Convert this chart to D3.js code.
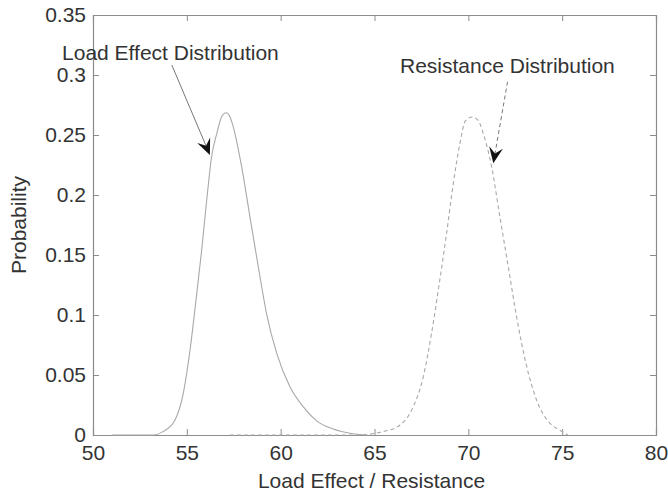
<!DOCTYPE html>
<html>
<head>
<meta charset="utf-8">
<script src="https://cdn.jsdelivr.net/npm/d3@7"></script>
<style>
  body { margin: 0; background: #fff; }
  text { font-family: "Liberation Sans", Arial, sans-serif; fill: #333; }
</style>
</head>
<body>
<div id="chart"></div>
<script>
// values
var loadX = [51, 53.2, 53.75, 54.37, 54.81, 55.17, 55.49, 55.79, 56.06, 56.32, 56.6, 56.85, 57.09, 57.3, 57.47, 57.92, 58.36, 58.81, 59.25, 59.79, 60.5, 61.2, 61.9, 62.8, 63.7, 64.6];
var loadY = [0, 0, 0.003, 0.0125, 0.0347, 0.0708, 0.1125, 0.154, 0.1958, 0.2319, 0.2514, 0.265, 0.2686, 0.265, 0.257, 0.2236, 0.182, 0.14, 0.101, 0.068, 0.04, 0.0236, 0.012, 0.005, 0.0015, 0];

var resX = [57.3, 64, 65.5, 66.36, 66.98, 67.6, 68.04, 68.45, 68.84, 69.2, 69.55, 69.85, 70.2, 70.53, 70.8, 71.24, 71.68, 72.13, 72.57, 73.07, 73.64, 74.35, 74.88, 75.3];
var resY = [0, 0, 0.003, 0.0083, 0.0208, 0.0486, 0.0847, 0.126, 0.168, 0.2097, 0.243, 0.262, 0.265, 0.262, 0.251, 0.2236, 0.182, 0.14, 0.0986, 0.0597, 0.029, 0.0097, 0.004, 0];

var xTicks = [50, 55, 60, 65, 70, 75, 80];
var yTicks = [0, 0.05, 0.1, 0.15, 0.2, 0.25, 0.3, 0.35];

// annotations in data units: label start/baseline, arrow tail, arrow tip
var notes = [
  {text: "Load Effect Distribution", tx: 48.35, ty: 0.3125, x0: 54.2, y0: 0.3083, x1: 56.23, y1: 0.2333, dash: null},
  {text: "Resistance Distribution", tx: 66.36, ty: 0.3017, x0: 72.09, y0: 0.2944, x1: 71.33, y1: 0.2264, dash: "4,3"}
];

var width = 668, height = 497;
var margin = {top: 15, right: 12, bottom: 62, left: 93};
var w = width - margin.left - margin.right,
    h = height - margin.top - margin.bottom;
var fontSize = "21px";

var svg = d3.select("#chart").append("svg")
  .attr("width", width)
  .attr("height", height);

var g = svg.append("g")
  .attr("transform", "translate(" + margin.left + "," + margin.top + ")");

var x = d3.scaleLinear().domain([50, 80]).range([0, w]);
var y = d3.scaleLinear().domain([0, 0.35]).range([h, 0]);

var axisColor = "#8c8c8c";

// axes, ticks pointing inward (matlab style box)
var xAxis = g.append("g")
  .attr("transform", "translate(0," + h + ")")
  .call(d3.axisBottom(x).tickValues(xTicks).tickSize(-6).tickPadding(10).tickFormat(d3.format("d")));
var xTop = g.append("g")
  .call(d3.axisTop(x).tickValues(xTicks).tickSize(-6).tickFormat(""));
var yAxis = g.append("g")
  .call(d3.axisLeft(y).tickValues(yTicks).tickSize(-6).tickPadding(7).tickFormat(function(d) { return d === 0 ? "0" : d3.format("")(d); }));
var yRight = g.append("g")
  .attr("transform", "translate(" + w + ",0)")
  .call(d3.axisRight(y).tickValues(yTicks).tickSize(-6).tickFormat(""));

[xAxis, xTop, yAxis, yRight].forEach(function(a) {
  a.select(".domain").attr("stroke", axisColor).attr("stroke-width", 1.2);
  a.selectAll(".tick line").attr("stroke", axisColor);
  a.selectAll("text").style("font-size", fontSize).attr("fill", "#333");
});

// curves
var line = d3.line()
  .x(function(d) { return x(d[0]); })
  .y(function(d) { return y(d[1]); })
  .curve(d3.curveMonotoneX);

g.append("path")
  .datum(d3.zip(loadX, loadY))
  .attr("fill", "none")
  .attr("stroke", "#a8a8a8")
  .attr("stroke-width", 1.1)
  .attr("d", line);

g.append("path")
  .datum(d3.zip(resX, resY))
  .attr("fill", "none")
  .attr("stroke", "#a8a8a8")
  .attr("stroke-width", 1.1)
  .attr("stroke-dasharray", "4,3")
  .attr("d", line);

// annotations
notes.forEach(function(n) {
  g.append("text")
    .attr("x", x(n.tx))
    .attr("y", y(n.ty))
    .style("font-size", fontSize)
    .text(n.text);

  var ax0 = x(n.x0), ay0 = y(n.y0), ax1 = x(n.x1), ay1 = y(n.y1);
  var ang = Math.atan2(ay1 - ay0, ax1 - ax0);
  var len = 16, half = 7, notch = 10;
  g.append("line")
    .attr("x1", ax0).attr("y1", ay0)
    .attr("x2", ax1 - Math.cos(ang) * notch).attr("y2", ay1 - Math.sin(ang) * notch)
    .attr("stroke", "#777")
    .attr("stroke-width", 1)
    .attr("stroke-dasharray", n.dash);

  var bx = ax1 - Math.cos(ang) * len, by = ay1 - Math.sin(ang) * len;
  var nx = ax1 - Math.cos(ang) * notch, ny = ay1 - Math.sin(ang) * notch;
  var px = -Math.sin(ang), py = Math.cos(ang);
  var pts = [
    [ax1, ay1],
    [bx + px * half, by + py * half],
    [nx, ny],
    [bx - px * half, by - py * half]
  ];
  g.append("path")
    .attr("d", "M" + pts.join("L") + "Z")
    .attr("fill", "#111");
});

// axis titles
svg.append("text")
  .attr("x", margin.left + w / 2 - 3)
  .attr("y", 488)
  .attr("text-anchor", "middle")
  .style("font-size", fontSize)
  .text("Load Effect / Resistance");

svg.append("text")
  .attr("transform", "translate(26," + (margin.top + h / 2) + ") rotate(-90)")
  .attr("text-anchor", "middle")
  .style("font-size", fontSize)
  .text("Probability");
</script>
</body>
</html>
